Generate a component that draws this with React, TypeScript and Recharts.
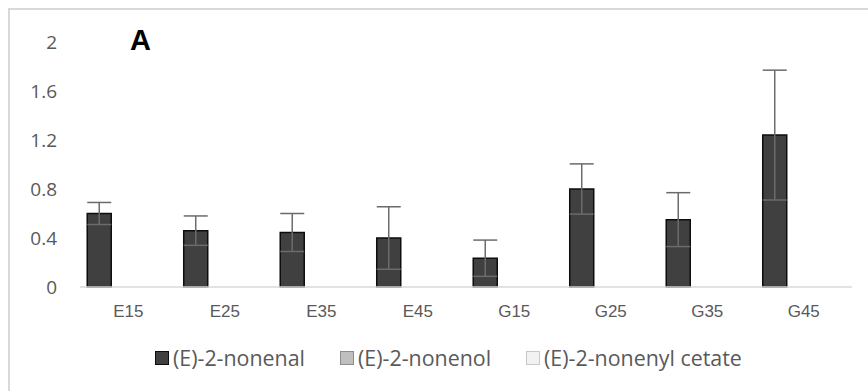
import React from 'react';
import { BarChart, Bar, XAxis, YAxis, Legend, ErrorBar } from 'recharts';

const categories = ['E15', 'E25', 'E35', 'E45', 'G15', 'G25', 'G35', 'G45'];
const nonenal = [0.6, 0.46, 0.445, 0.4, 0.235, 0.8, 0.55, 1.24];
const nonenalErr = [0.09, 0.12, 0.155, 0.255, 0.148, 0.205, 0.22, 0.53];
const nonenol = [0, 0, 0, 0, 0, 0, 0, 0];
const nonenylCetate = [0, 0, 0, 0, 0, 0, 0, 0];
const yTicks = [0, 0.4, 0.8, 1.2, 1.6, 2];

const seriesNames = ['(E)-2-nonenal', '(E)-2-nonenol', '(E)-2-nonenyl cetate'];

const data = categories.map((name, i) => ({
  name,
  nonenal: nonenal[i],
  err: nonenalErr[i],
  nonenol: nonenol[i],
  cetate: nonenylCetate[i],
}));

const legendColors = [
  { fill: '#404040', stroke: '#0d0d0d' },
  { fill: '#bfbfbf', stroke: '#8c8c8c' },
  { fill: '#f2f2f2', stroke: '#c8c8c8' },
];

const renderLegend = () => (
  <div style={{ display: 'flex', alignItems: 'center', paddingLeft: 155 }}>
    {seriesNames.map((name, i) => (
      <div key={name} style={{ display: 'flex', alignItems: 'center', marginRight: 35 }}>
        <span
          style={{
            display: 'inline-block',
            width: 12,
            height: 12,
            background: legendColors[i].fill,
            border: `1.5px solid ${legendColors[i].stroke}`,
            marginRight: 4,
          }}
        />
        <span style={{ fontFamily: '"Open Sans", sans-serif', fontSize: 21.4, color: '#595959', lineHeight: '20px' }}>
          {name}
        </span>
      </div>
    ))}
  </div>
);

export default function App() {
  return (
    <div style={{ position: 'absolute', left: 0, top: 0, width: 868, height: 391, background: '#fff' }}>
      <div
        style={{
          position: 'absolute',
          left: 8,
          top: 8,
          width: 860,
          height: 383,
          borderLeft: '2px solid #d9d9d9',
          borderTop: '2px solid #d9d9d9',
        }}
      />
      <BarChart
        width={868}
        height={391}
        data={data}
        margin={{ top: 42, right: 16, left: 0, bottom: 44 }}
        barCategoryGap="7.5%"
        barGap={5}
        style={{ position: 'absolute', left: 0, top: 0 }}
      >
        <XAxis
          dataKey="name"
          height={60}
          axisLine={{ stroke: '#d9d9d9', strokeWidth: 1.5 }}
          tickLine={false}
          tickSize={0}
          tickMargin={18}
          tick={{ fill: '#595959', fontSize: 17, fontFamily: '"Liberation Sans", Arial, sans-serif' }}
        />
        <YAxis
          width={80}
          domain={[0, 2]}
          ticks={yTicks}
          axisLine={false}
          tickLine={false}
          tickSize={0}
          tickMargin={23}
          tick={{ fill: '#595959', fontSize: 19, fontFamily: '"Open Sans", sans-serif' }}
        />
        <Legend
          verticalAlign="middle"
          align="center"
          layout="horizontal"
          content={renderLegend}
          wrapperStyle={{ top: 348, left: 0, width: 868 }}
        />
        <Bar dataKey="nonenal" name={seriesNames[0]} fill="#404040" stroke="#0d0d0d" strokeWidth={1.5} isAnimationActive={false}>
          <ErrorBar dataKey="err" width={12} stroke="#6b6b6b" strokeWidth={1.5} isAnimationActive={false} />
        </Bar>
        <Bar dataKey="nonenol" name={seriesNames[1]} fill="#bfbfbf" stroke="#8c8c8c" strokeWidth={1.5} isAnimationActive={false} />
        <Bar dataKey="cetate" name={seriesNames[2]} fill="#f2f2f2" stroke="#c8c8c8" strokeWidth={1.5} isAnimationActive={false} />
      </BarChart>
      <svg width={868} height={391} style={{ position: 'absolute', left: 0, top: 0, pointerEvents: 'none' }}>
        <text x={130} y={50} fontFamily='"Liberation Sans", Arial, sans-serif' fontWeight="bold" fontSize={29} fill="#000">
          A
        </text>
      </svg>
    </div>
  );
}
